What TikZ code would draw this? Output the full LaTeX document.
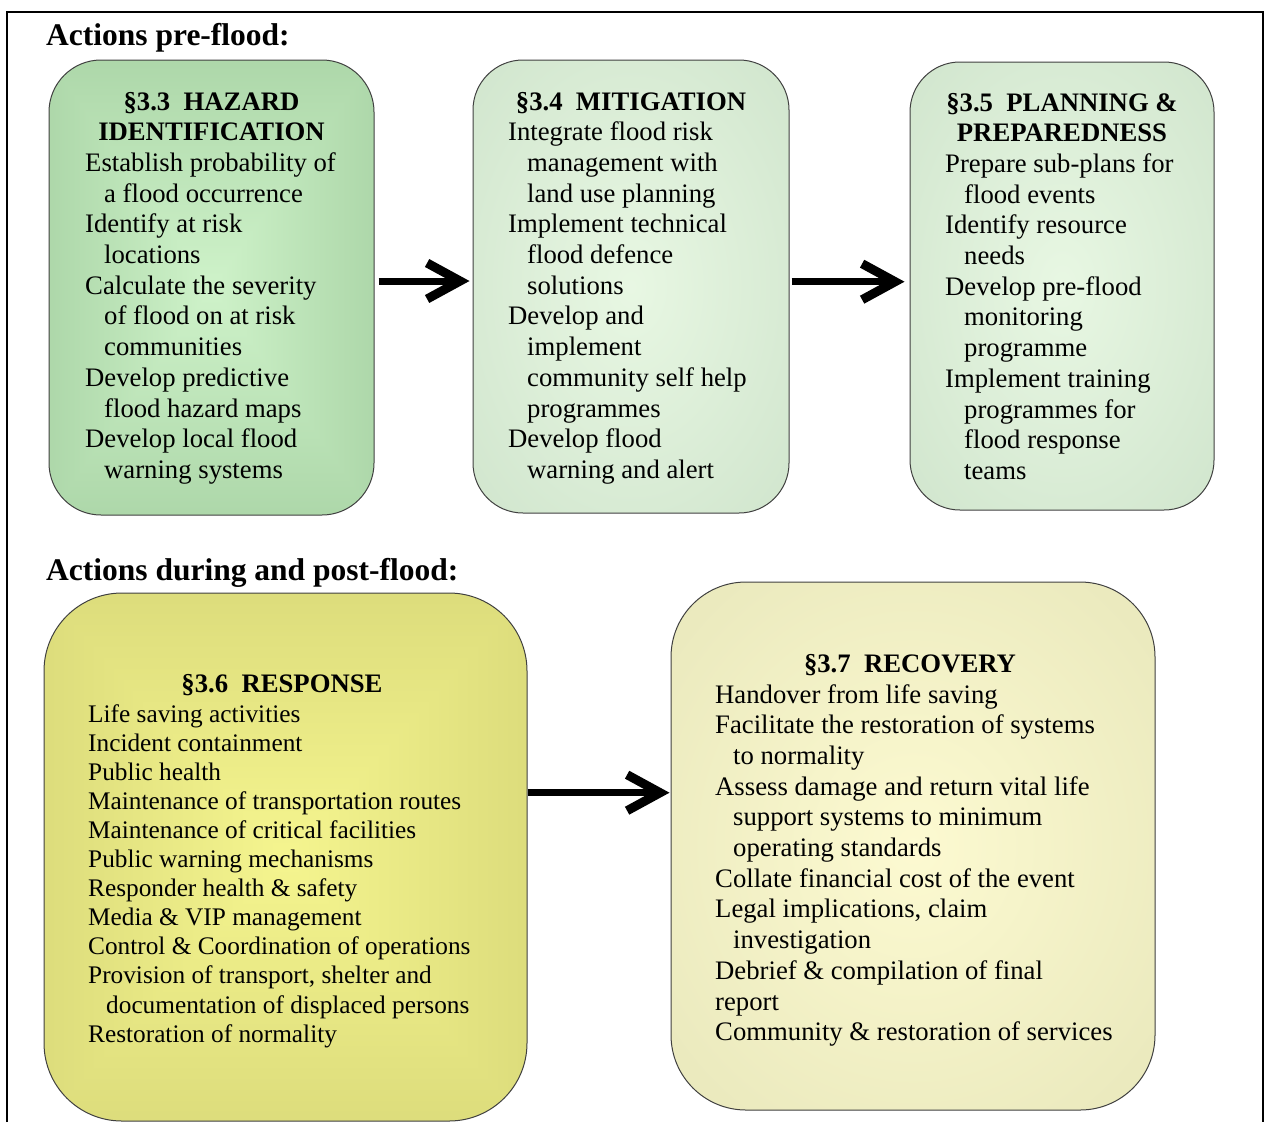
\documentclass[tikz,border=0pt]{standalone}
\usepackage{fontspec}
\setmainfont{Liberation Serif}
\usetikzlibrary{arrows.meta}

% Rectangular "from centre" gradients: colour depends on max(|x|,|y|)
\pgfdeclarefunctionalshading{hazardfill}{\pgfpoint{-50bp}{-50bp}}{\pgfpoint{50bp}{50bp}}{}{
  abs exch abs 2 copy lt {exch} if pop 50 div
  dup dup
  0.55 0.81 sub mul 0.81 add
  3 1 roll
  0.74 0.95 sub mul 0.95 add
  exch
  0.54 0.79 sub mul 0.79 add
}
\pgfdeclarefunctionalshading{responsefill}{\pgfpoint{-50bp}{-50bp}}{\pgfpoint{50bp}{50bp}}{}{
  abs exch abs 2 copy lt {exch} if pop 50 div
  dup dup
  0.77 0.96 sub mul 0.96 add
  3 1 roll
  0.77 0.96 sub mul 0.96 add
  exch
  0.41 0.56 sub mul 0.56 add
}
% Soft radial gradients
\pgfdeclareradialshading{greenglow}{\pgfpoint{0bp}{0bp}}{rgb(0bp)=(0.91,0.97,0.89); rgb(50bp)=(0.78,0.87,0.77); rgb(72bp)=(0.75,0.85,0.74)}
\pgfdeclareradialshading{creamglow}{\pgfpoint{0bp}{0bp}}{rgb(0bp)=(0.99,0.98,0.82); rgb(50bp)=(0.88,0.88,0.70); rgb(72bp)=(0.86,0.86,0.67)}

\newcommand\fitem[1]{\par\hangindent=19pt\hangafter=1 #1}
\newcommand\fitemb[1]{\par\hangindent=18pt\hangafter=1 #1}

\tikzset{
  panel/.style={draw=black!75, line width=1pt},
  heading/.style={anchor=base west, inner sep=0pt, font=\fontsize{31.5}{36}\selectfont\bfseries},
  paneltitle/.style={anchor=base, inner sep=0pt, font=\fontsize{26.7}{30.7}\selectfont\bfseries},
  panelbody/.style={anchor=base west, inner sep=0pt, font=\fontsize{26.7}{30.7}\selectfont},
  panelbodysmall/.style={anchor=base west, inner sep=0pt, font=\fontsize{25.3}{29.1}\selectfont},
  flow/.style={line width=7pt, -{Straight Barb[sharp,length=33pt,width=36pt,line width=9pt]}}
}

\begin{document}
\begin{tikzpicture}[x=1pt,y=-1pt]
\useasboundingbox (0,0) rectangle (1265,1122);

% outer frame
\draw[line width=2pt] (7,1122) -- (7,12) -- (1263,12) -- (1263,1122);

% section headings
\node[heading] (pre) at (46,45) {Actions pre-flood:};
\node[heading] (post) at (46,580) {Actions during and post-flood:};

% panels
\node[panel, shading=hazardfill, rounded corners=52pt, minimum width=325pt, minimum height=455pt] (haz) at (211.5,287.5) {};
\node[panel, shading=greenglow, rounded corners=50pt, minimum width=316pt, minimum height=453pt] (mit) at (631,286.5) {};
\node[panel, shading=greenglow, rounded corners=50pt, minimum width=304pt, minimum height=448pt] (plan) at (1062,286) {};
\node[panel, shading=responsefill, rounded corners=78pt, minimum width=483pt, minimum height=528pt] (resp) at (285.5,857) {};
\node[panel, shading=creamglow, rounded corners=75pt, minimum width=484pt, minimum height=528pt] (rec) at (913,846) {};

% hazard identification
\node[paneltitle] (haz-title) at (211.5,110) {\begin{minipage}[t]{330pt}\centering
  §3.3\hspace{0.5em}HAZARD\\IDENTIFICATION\end{minipage}};
\node[panelbody] (haz-body) at (85,171.4) {\begin{minipage}[t]{300pt}\raggedright
  \fitem{Establish probability of\newline a flood occurrence}
  \fitem{Identify at risk\newline locations}
  \fitem{Calculate the severity\newline of flood on at risk\newline communities}
  \fitem{Develop predictive\newline flood hazard maps}
  \fitem{Develop local flood\newline warning systems}\par
\end{minipage}};

% mitigation
\node[paneltitle] (mit-title) at (631,110) {\begin{minipage}[t]{330pt}\centering
  §3.4\hspace{0.5em}MITIGATION\end{minipage}};
\node[panelbody] (mit-body) at (508,140.7) {\begin{minipage}[t]{300pt}\raggedright
  \fitem{Integrate flood risk\newline management with\newline land use planning}
  \fitem{Implement technical\newline flood defence\newline solutions}
  \fitem{Develop and\newline implement\newline community self help\newline programmes}
  \fitem{Develop flood\newline warning and alert}\par
\end{minipage}};

% planning and preparedness
\node[paneltitle] (plan-title) at (1062,111) {\begin{minipage}[t]{330pt}\centering
  §3.5\hspace{0.5em}PLANNING \&\\PREPAREDNESS\end{minipage}};
\node[panelbody] (plan-body) at (945,172.4) {\begin{minipage}[t]{300pt}\raggedright
  \fitem{Prepare sub-plans for\newline flood events}
  \fitem{Identify resource\newline needs}
  \fitem{Develop pre-flood\newline monitoring\newline programme}
  \fitem{Implement training\newline programmes for\newline flood response\newline teams}\par
\end{minipage}};

% response
\node[paneltitle] (resp-title) at (282,692) {\begin{minipage}[t]{400pt}\centering
  §3.6\hspace{0.5em}RESPONSE\end{minipage}};
\node[panelbodysmall] (resp-body) at (88,722) {\begin{minipage}[t]{420pt}\raggedright
  \fitemb{Life saving activities}
  \fitemb{Incident containment}
  \fitemb{Public health}
  \fitemb{Maintenance of transportation routes}
  \fitemb{Maintenance of critical facilities}
  \fitemb{Public warning mechanisms}
  \fitemb{Responder health \& safety}
  \fitemb{Media \& VIP management}
  \fitemb{Control \& Coordination of operations}
  \fitemb{Provision of transport, shelter and\newline documentation of displaced persons}
  \fitemb{Restoration of normality}\par
\end{minipage}};

% recovery
\node[paneltitle] (rec-title) at (910,672) {\begin{minipage}[t]{400pt}\centering
  §3.7\hspace{0.5em}RECOVERY\end{minipage}};
\node[panelbody] (rec-body) at (715,703) {\begin{minipage}[t]{440pt}\raggedright
  \fitemb{Handover from life saving}
  \fitemb{Facilitate the restoration of systems\newline to normality}
  \fitemb{Assess damage and return vital life\newline support systems to minimum\newline operating standards}
  \fitemb{Collate financial cost of the event}
  \fitemb{Legal implications, claim\newline investigation}
  \fitemb{Debrief \& compilation of final}
  \fitemb{report}
  \fitemb{Community \& restoration of services}\par
\end{minipage}};

% flow arrows
\draw[flow, shorten <=4pt, shorten >=3pt] ([yshift=6.5pt]haz.east) -- ([yshift=6.5pt]haz.east -| mit.west);
\draw[flow, shorten <=2pt, shorten >=5pt] ([yshift=4.8pt]mit.east) -- ([yshift=4.8pt]mit.east -| plan.west);
\draw[flow, shorten <=0pt, shorten >=1pt] ([yshift=64.3pt]resp.east) -- ([yshift=64.3pt]resp.east -| rec.west);
\end{tikzpicture}
\end{document}
